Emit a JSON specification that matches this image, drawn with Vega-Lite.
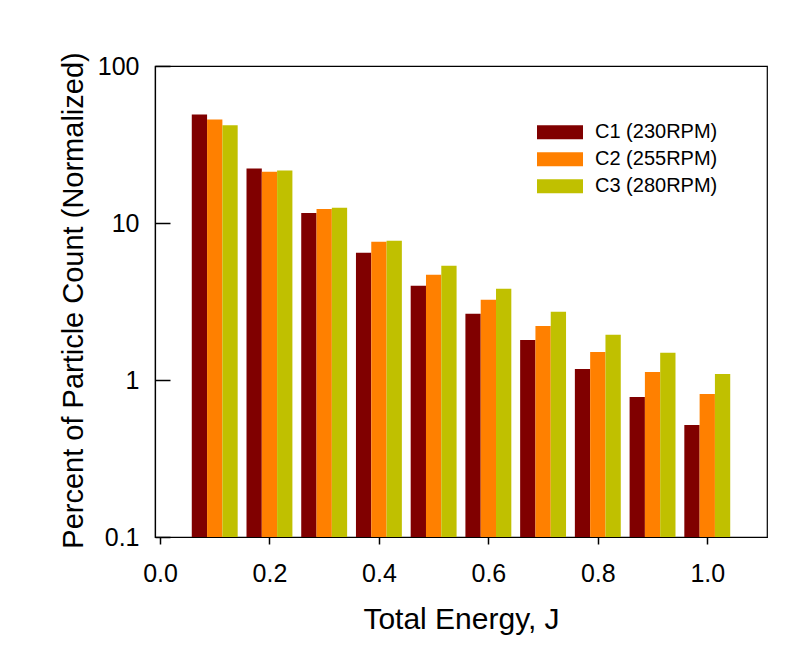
{
  "$schema": "https://vega.github.io/schema/vega-lite/v6.json",
  "width": 612,
  "height": 471,
  "autosize": {"type": "none"},
  "padding": {"left": 155, "top": 66, "right": 41, "bottom": 116},
  "background": "white",
  "config": {
    "font": "Liberation Sans",
    "view": {"stroke": "black", "strokeWidth": 1.2},
    "axis": {"grid": false, "zindex": 1, "domainColor": "black", "tickColor": "black", "labelColor": "black", "titleColor": "black", "labelFont": "Liberation Sans", "titleFont": "Liberation Sans", "titleFontWeight": "normal", "domainWidth": 1.2, "tickWidth": 1.5}
  },
  "data": {
    "values": [
      {"energy": 0.1, "series": "C1 (230RPM)", "value": 49.1},
      {"energy": 0.1, "series": "C2 (255RPM)", "value": 45.6},
      {"energy": 0.1, "series": "C3 (280RPM)", "value": 42.0},
      {"energy": 0.2, "series": "C1 (230RPM)", "value": 22.2},
      {"energy": 0.2, "series": "C2 (255RPM)", "value": 21.2},
      {"energy": 0.2, "series": "C3 (280RPM)", "value": 21.6},
      {"energy": 0.3, "series": "C1 (230RPM)", "value": 11.6},
      {"energy": 0.3, "series": "C2 (255RPM)", "value": 12.3},
      {"energy": 0.3, "series": "C3 (280RPM)", "value": 12.5},
      {"energy": 0.4, "series": "C1 (230RPM)", "value": 6.46},
      {"energy": 0.4, "series": "C2 (255RPM)", "value": 7.6},
      {"energy": 0.4, "series": "C3 (280RPM)", "value": 7.71},
      {"energy": 0.5, "series": "C1 (230RPM)", "value": 3.98},
      {"energy": 0.5, "series": "C2 (255RPM)", "value": 4.68},
      {"energy": 0.5, "series": "C3 (280RPM)", "value": 5.34},
      {"energy": 0.6, "series": "C1 (230RPM)", "value": 2.64},
      {"energy": 0.6, "series": "C2 (255RPM)", "value": 3.24},
      {"energy": 0.6, "series": "C3 (280RPM)", "value": 3.81},
      {"energy": 0.7, "series": "C1 (230RPM)", "value": 1.80},
      {"energy": 0.7, "series": "C2 (255RPM)", "value": 2.21},
      {"energy": 0.7, "series": "C3 (280RPM)", "value": 2.72},
      {"energy": 0.8, "series": "C1 (230RPM)", "value": 1.175},
      {"energy": 0.8, "series": "C2 (255RPM)", "value": 1.51},
      {"energy": 0.8, "series": "C3 (280RPM)", "value": 1.94},
      {"energy": 0.9, "series": "C1 (230RPM)", "value": 0.779},
      {"energy": 0.9, "series": "C2 (255RPM)", "value": 1.125},
      {"energy": 0.9, "series": "C3 (280RPM)", "value": 1.49},
      {"energy": 1.0, "series": "C1 (230RPM)", "value": 0.516},
      {"energy": 1.0, "series": "C2 (255RPM)", "value": 0.814},
      {"energy": 1.0, "series": "C3 (280RPM)", "value": 1.09}
    ]
  },
  "encoding": {
    "x": {
      "field": "energy", "type": "quantitative",
      "scale": {"domain": [0, 1.1], "nice": false, "zero": false},
      "axis": {"values": [0, 0.2, 0.4, 0.6, 0.8, 1.0], "format": ".1f", "labelFontSize": 25, "tickSize": 7, "labelPadding": 17, "title": "Total Energy, J", "titleFontSize": 30, "titleX": 306, "titleY": 91, "titleBaseline": "alphabetic", "titleAnchor": null}
    },
    "y": {
      "field": "value", "type": "quantitative", "stack": null,
      "scale": {"type": "log", "domain": [0.1, 100], "nice": false},
      "axis": {"values": [0.1, 1, 10, 100], "format": "~g", "labelFontSize": 25, "tickSize": -15, "labelPadding": 31, "title": "Percent of Particle Count (Normalized)", "titleFontSize": 29, "titleX": -67, "titleY": 234, "titleBaseline": "bottom", "titleAngle": -90, "titleAnchor": null}
    },
    "color": {
      "field": "series", "type": "nominal",
      "scale": {"domain": ["C1 (230RPM)", "C2 (255RPM)", "C3 (280RPM)"], "range": ["#800000", "#FF8000", "#C0C000"]},
      "legend": {"title": null, "orient": "none", "legendX": 382, "legendY": 53, "padding": 0, "symbolType": "M-1,-0.304L1,-0.304L1,0.304L-1,0.304Z", "symbolSize": 2116, "symbolStrokeWidth": 0, "symbolOpacity": 1, "labelFontSize": 20, "labelFont": "Liberation Sans", "labelColor": "black", "labelOffset": 12, "clipHeight": 26.5, "rowPadding": 0, "labelLimit": 300}
    }
  },
  "layer": [
    {
      "transform": [{"filter": "datum.series === 'C1 (230RPM)'"}],
      "mark": {"type": "bar", "width": 15.3, "xOffset": -15.3, "clip": true}
    },
    {
      "transform": [{"filter": "datum.series === 'C2 (255RPM)'"}],
      "mark": {"type": "bar", "width": 15.3, "xOffset": 0, "clip": true}
    },
    {
      "transform": [{"filter": "datum.series === 'C3 (280RPM)'"}],
      "mark": {"type": "bar", "width": 15.3, "xOffset": 15.3, "clip": true}
    }
  ]
}
